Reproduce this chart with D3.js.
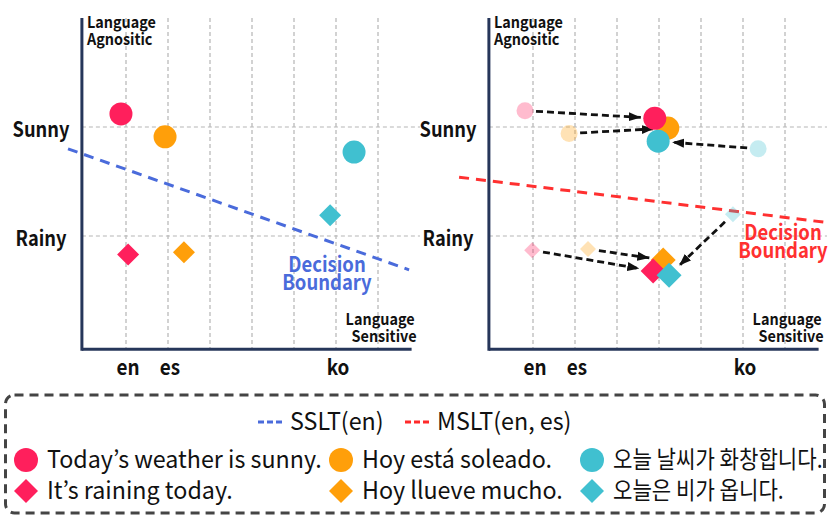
<!DOCTYPE html>
<html>
<head>
<meta charset="utf-8">
<script src="https://cdn.jsdelivr.net/npm/d3@7"></script>
<style>
  body { margin: 0; background: #fff; }
  svg text { font-family: "Noto Sans CJK KR", "Noto Sans", sans-serif; }
</style>
</head>
<body>
<svg id="chart" width="830" height="532"></svg>
<script>
// language ticks on the x axis and class ticks on the y axis
const langLabels = ["en", "es", "ko"];
const langPos = [1, 2, 6];
const classLabels = ["Sunny", "Rainy"];
const classPos = [2, 1];

// sentences: en / es / ko, sunny (circle) then rainy (diamond)
const sentences = ["Today’s weather is sunny.", "Hoy está soleado.", "오늘 날씨가 화창합니다.",
                   "It’s raining today.", "Hoy llueve mucho.", "오늘은 비가 옵니다."];
const shapes = ["circle", "circle", "circle", "diamond", "diamond", "diamond"];
const colors = ["#FF1F5C", "#FF9F0A", "#40C0D0", "#FF1F5C", "#FF9F0A", "#40C0D0"];

// SSLT(en) embedding positions (left panel)
const ssltX = [0.88, 1.93, 6.43, 1.05, 2.38, 5.86];
const ssltY = [2.12, 1.91, 1.77, 0.83, 0.85, 1.19];

// MSLT(en, es): positions before (faded) and after (right panel)
const beforeX = [0.81, 1.86, 6.36, 0.98, 2.31, 5.76];
const beforeY = [2.15, 1.94, 1.80, 0.87, 0.88, 1.20];
const afterX = [3.90, 4.21, 3.98, 3.86, 4.10, 4.24];
const afterY = [2.08, 1.99, 1.87, 0.68, 0.78, 0.64];

// decision boundaries, [x, y] end points
const boundarySSLT = [[-0.38, 1.80], [7.74, 0.69]];
const boundaryMSLT = [[-0.76, 1.54], [8.07, 1.12]];

const legendLines = [
  { label: "SSLT(en)", color: "#4A6BDB" },
  { label: "MSLT(en, es)", color: "#FF2A2A" }
];

const drawOrder = [1, 0, 2, 4, 3, 5];

const svg = d3.select("#chart");
const x = d3.scaleLinear().domain([0, 8]).range([84, 420]);
const y = d3.scaleLinear().domain([0, 3]).range([345, 18]);

const gridColor = "#b5b5b5";
const axisColor = "#26365A";

svg.append("defs").append("marker")
  .attr("id", "head")
  .attr("markerUnits", "userSpaceOnUse")
  .attr("viewBox", "0 0 12 10")
  .attr("refX", 12).attr("refY", 5)
  .attr("markerWidth", 12).attr("markerHeight", 10)
  .attr("orient", "auto")
  .append("path")
  .attr("d", "M0,0.5 L12,5 L0,9.5 Z")
  .attr("fill", "#111");

function marker(shape, r) {
  if (shape === "circle") return d3.symbol(d3.symbolCircle, Math.PI * r * r)();
  return d3.symbol(d3.symbolSquare, 2 * r * r)();
}

// text squeezed horizontally, to get close to the condensed face of the original
function label(g, str, tx, ty, o) {
  return g.append("text")
    .attr("transform", `translate(${tx},${ty}) scale(${o.sx || 1},1)`)
    .attr("text-anchor", o.anchor || "start")
    .attr("dy", o.dy || 0)
    .style("font-size", o.size + "px")
    .style("font-weight", o.weight || 400)
    .style("fill", o.fill || "#111")
    .text(str);
}

function drawPanel(offset, opts) {
  const g = svg.append("g").attr("transform", `translate(${offset},0)`);
  const x0 = x(-0.05), x1 = x(7.8), yTop = y(3), yBot = y(-0.04);

  // grid
  g.selectAll(".vgrid").data(d3.range(1, 8)).enter().append("line")
    .attr("x1", d => x(d)).attr("x2", d => x(d))
    .attr("y1", yTop).attr("y2", yBot)
    .style("stroke", gridColor).style("stroke-width", 1.2).style("stroke-dasharray", "4,3");
  g.selectAll(".hgrid").data(classPos).enter().append("line")
    .attr("x1", x0).attr("x2", x(8))
    .attr("y1", d => y(d)).attr("y2", d => y(d))
    .style("stroke", gridColor).style("stroke-width", 1.2).style("stroke-dasharray", "4,3");

  // axes
  g.append("line").attr("x1", x0).attr("x2", x0).attr("y1", yTop).attr("y2", yBot + 1.5)
    .style("stroke", axisColor).style("stroke-width", 3);
  g.append("line").attr("x1", x0).attr("x2", x1).attr("y1", yBot).attr("y2", yBot)
    .style("stroke", axisColor).style("stroke-width", 3);

  // tick labels
  langLabels.forEach((d, i) =>
    label(g, d, x(langPos[i]) + 2, 375, { size: 21, weight: 600, anchor: "middle", sx: 0.9 }));
  classLabels.forEach((d, i) =>
    label(g, d, 41, y(classPos[i]) + 10, { size: 21, weight: 600, anchor: "middle", sx: 0.87 }));

  // corner labels
  label(g, "Language", x0 + 5, 28, { size: 16, weight: 600, sx: 0.9 });
  label(g, "Agnositic", x0 + 5, 45, { size: 16, weight: 600, sx: 0.9 });
  label(g, "Language", x(7.8) + 3, 325, { size: 16, weight: 600, anchor: "end", sx: 0.9 });
  label(g, "Sensitive", x(7.8) + 5, 342, { size: 16, weight: 600, anchor: "end", sx: 0.9 });

  // decision boundary
  const b = opts.boundary;
  g.append("line")
    .attr("x1", x(b[0][0])).attr("y1", y(b[0][1]))
    .attr("x2", x(b[1][0])).attr("y2", y(b[1][1]))
    .style("stroke", opts.color).style("stroke-width", 3).style("stroke-dasharray", "10,7");
  ["Decision", "Boundary"].forEach((d, i) =>
    label(g, d, opts.labelX, opts.labelY + i * 18,
      { size: 21, weight: 600, anchor: "middle", sx: 0.88, fill: opts.color }));
  return g;
}

// left panel: SSLT(en)
const left = drawPanel(0, { boundary: boundarySSLT, color: "#4A6BDB", labelX: 327, labelY: 272 });
left.selectAll(".pt").data(drawOrder).enter().append("path")
  .attr("d", i => marker(shapes[i], shapes[i] === "circle" ? 11.5 : 11))
  .attr("transform", i => `translate(${x(ssltX[i])},${y(ssltY[i])})${shapes[i] === "diamond" ? " rotate(45)" : ""}`)
  .style("fill", i => colors[i]);

// right panel: MSLT(en, es)
const right = drawPanel(407, { boundary: boundaryMSLT, color: "#FF3030", labelX: 376, labelY: 240 });
right.selectAll(".ghost").data(drawOrder).enter().append("path")
  .attr("d", i => marker(shapes[i], shapes[i] === "circle" ? 8.5 : 8))
  .attr("transform", i => `translate(${x(beforeX[i])},${y(beforeY[i])})${shapes[i] === "diamond" ? " rotate(45)" : ""}`)
  .style("fill", i => colors[i]).style("opacity", 0.3);

right.selectAll(".arrow").data(d3.range(6)).enter().append("line")
  .each(function(i) {
    const sx = x(beforeX[i]), sy = y(beforeY[i]);
    const ex = x(afterX[i]), ey = y(afterY[i]);
    const len = Math.hypot(ex - sx, ey - sy);
    const ux = (ex - sx) / len, uy = (ey - sy) / len;
    const s0 = 11, s1 = 14;
    d3.select(this)
      .attr("x1", sx + ux * s0).attr("y1", sy + uy * s0)
      .attr("x2", ex - ux * s1).attr("y2", ey - uy * s1);
  })
  .style("stroke", "#111").style("stroke-width", 2.8).style("stroke-dasharray", "7,4")
  .attr("marker-end", "url(#head)");

right.selectAll(".pt").data(drawOrder).enter().append("path")
  .attr("d", i => marker(shapes[i], shapes[i] === "circle" ? 11.5 : 12.5))
  .attr("transform", i => `translate(${x(afterX[i])},${y(afterY[i])})${shapes[i] === "diamond" ? " rotate(45)" : ""}`)
  .style("fill", i => colors[i]);

// legend
const legend = svg.append("g");
legend.append("rect")
  .attr("x", 5.5).attr("y", 395).attr("width", 819).attr("height", 118).attr("rx", 9)
  .style("fill", "none").style("stroke", "#444").style("stroke-width", 3).style("stroke-dasharray", "9,6");

const lineX = [258, 405];
legendLines.forEach((d, i) => {
  legend.append("line")
    .attr("x1", lineX[i]).attr("x2", lineX[i] + 27).attr("y1", 422).attr("y2", 422)
    .style("stroke", d.color).style("stroke-width", 3).style("stroke-dasharray", "6,3");
  label(legend, d.label, lineX[i] + 32, 422, { size: 24, dy: "0.35em", sx: 0.97 });
});

const colX = [26, 341, 592];
const rowY = [460, 491];
sentences.forEach((s, i) => {
  const cx = colX[i % 3], cy = rowY[Math.floor(i / 3)];
  legend.append("path")
    .attr("d", marker(shapes[i], 12))
    .attr("transform", `translate(${cx},${cy})${shapes[i] === "diamond" ? " rotate(45)" : ""}`)
    .style("fill", colors[i]);
  const korean = i % 3 === 2;
  label(legend, s, cx + 21, cy, { size: 24, dy: "0.35em", sx: korean ? 0.88 : 0.97 });
});
</script>
</body>
</html>
